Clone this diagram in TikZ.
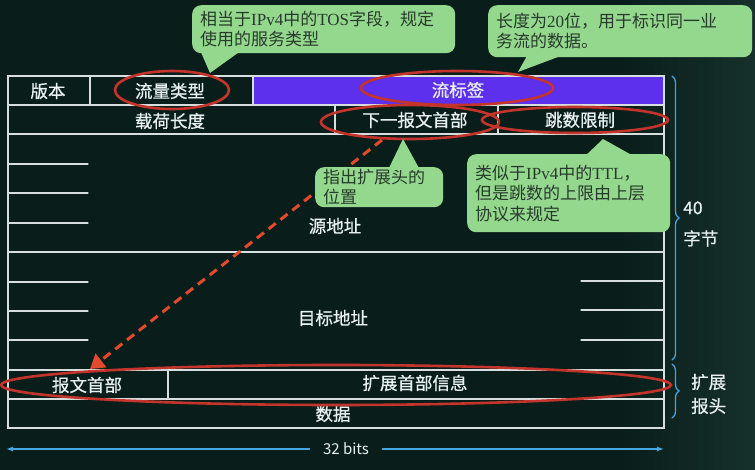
\documentclass[tikz,border=0pt]{standalone}
\usepackage{fontspec}
\setmainfont{Noto Sans CJK SC}
\newfontfamily\cellfont{Noto Sans CJK SC}[FakeBold=0.7]
\newfontfamily\latinserif{Liberation Serif}
\usetikzlibrary{arrows.meta,decorations.pathreplacing}
\definecolor{bg}{RGB}{9,30,26}
\definecolor{bgright}{RGB}{22,48,44}
\definecolor{tabline}{RGB}{214,222,222}
\definecolor{tabtext}{RGB}{232,240,242}
\definecolor{flowblue}{RGB}{92,48,236}
\definecolor{ringred}{RGB}{196,52,42}
\definecolor{ptrred}{RGB}{226,74,46}
\definecolor{notegreen}{RGB}{148,216,142}
\definecolor{notetext}{RGB}{40,58,44}
\definecolor{braceblue}{RGB}{70,166,226}

\begin{document}
\begin{tikzpicture}[x=1pt,y=-1pt,line cap=round,
  cell/.style={text=tabtext,font=\cellfont\fontsize{17.5}{20}\selectfont,inner sep=1pt},
  note/.style={fill=notegreen,rounded corners=9pt,text=notetext,align=left,
    font=\fontsize{17}{20.5}\selectfont,inner xsep=8pt,inner ysep=3pt,anchor=north west},
  ring/.style={draw=ringred,line width=2.6pt},
  rule/.style={draw=tabline,line width=1.3pt},
  bluebrace/.style={draw=braceblue,line width=1.3pt,decorate,decoration={brace,amplitude=7pt}}]
\useasboundingbox (0,0) rectangle (755,470);
\fill[bg] (0,0) rectangle (755,470);
\shade[left color=bg,right color=bgright] (620,0) rectangle (755,470);

% table
\fill[flowblue] (253,76) rectangle (664,105);
\draw[rule] (8,76) rectangle (664,428);
\foreach \y in {105,134,252,370,399}
  \draw[rule] (8,\y) -- (664,\y);
\draw[rule] (90,76) -- (90,105);
\draw[rule] (253,76) -- (253,105);
\draw[rule] (335,105) -- (335,134);
\draw[rule] (498,105) -- (498,134);
\draw[rule] (168,370) -- (168,399);
\foreach \y in {164,193,223,282,311,340}
  \draw[rule] (8,\y) -- (88,\y);
\foreach \y in {281,310,340}
  \draw[rule] (581,\y) -- (664,\y);

\node[cell] (ver) at (48,91) {版本};
\node[cell] (tclass) at (170,91) {流量类型};
\node[cell] (flow) at (458,90) {流标签};
\node[cell] (plen) at (170,121) {载荷长度};
\node[cell] (nexthdr) at (415,120) {下一报文首部};
\node[cell] (hoplim) at (580,120) {跳数限制};
\node[cell] (src) at (335,226) {源地址};
\node[cell] (dst) at (333,318) {目标地址};
\node[cell] (exthdr) at (87,385) {报文首部};
\node[cell] (extinfo) at (415,383) {扩展首部信息};
\node[cell] (data) at (333,414) {数据};

% braces
\draw[bluebrace] (672,76) -- (672,360);
\draw[bluebrace] (672,364) -- (672,418);
\node[cell,align=left,anchor=west] (hdr40) at (682,224) {40\\[11pt]字节};
\node[cell,align=left,anchor=west] (exthead) at (690,394) {扩展\\[4pt]报头};

% width
\node[text=tabtext,font=\fontsize{15}{18}\selectfont] (bits) at (346,449) {32 bits};
\coordinate (wl) at (6,449);
\coordinate (wr) at (664,449);
\draw[braceblue,line width=1.3pt,-{Latex[length=7pt,width=5pt]}] ([xshift=-10pt]bits.west) -- (wl);
\draw[braceblue,line width=1.3pt,-{Latex[length=7pt,width=5pt]}] ([xshift=10pt]bits.east) -- (wr);

% rings
\draw[ring] (172,90) ellipse [x radius=57pt,y radius=19pt];
\draw[ring] (457,88) ellipse [x radius=96pt,y radius=17pt];
\draw[ring] (410,122) ellipse [x radius=89pt,y radius=17pt];
\draw[ring] (575,120) ellipse [x radius=93pt,y radius=13pt];
\draw[ring] (336,385) ellipse [x radius=335pt,y radius=20pt];

% pointer to extension header
\coordinate (ptrstart) at (382,140);
\coordinate (ptrend) at (90,369);
\draw[ptrred,line width=3pt,dash pattern=on 9pt off 6pt,line cap=butt,
  -{Triangle[length=14pt,width=17pt]}] (ptrstart) -- (ptrend);

% notes
\node[note,text width=247pt,minimum height=48pt] (tosnote) at (192,5)
  {相当于{\latinserif IPv4}中的{\latinserif TOS}字段，规定\\使用的服务类型};
\fill[notegreen] (200,50) -- (210,73) -- (242,50) -- cycle;

\node[note,text width=248pt,minimum height=52pt] (flownote) at (488,5)
  {长度为{\latinserif 20}位，用于标识同一业\\务流的数据。};
\fill[notegreen] (528,54) -- (518,72) -- (566,54) -- cycle;

\node[note,text width=112pt,minimum height=40pt,inner ysep=1pt] (nextnote) at (315,167)
  {指出扩展头的\\位置};
\fill[notegreen] (388,170) -- (403,139) -- (420,170) -- cycle;

\node[note,text width=187pt,minimum height=78pt] (ttlnote) at (467,154)
  {类似于{\latinserif IPv4}中的{\latinserif TTL}，\\但是跳数的上限由上层\\协议来规定};
\fill[notegreen] (583,158) -- (603,139) -- (637,158) -- cycle;
\end{tikzpicture}
\end{document}
